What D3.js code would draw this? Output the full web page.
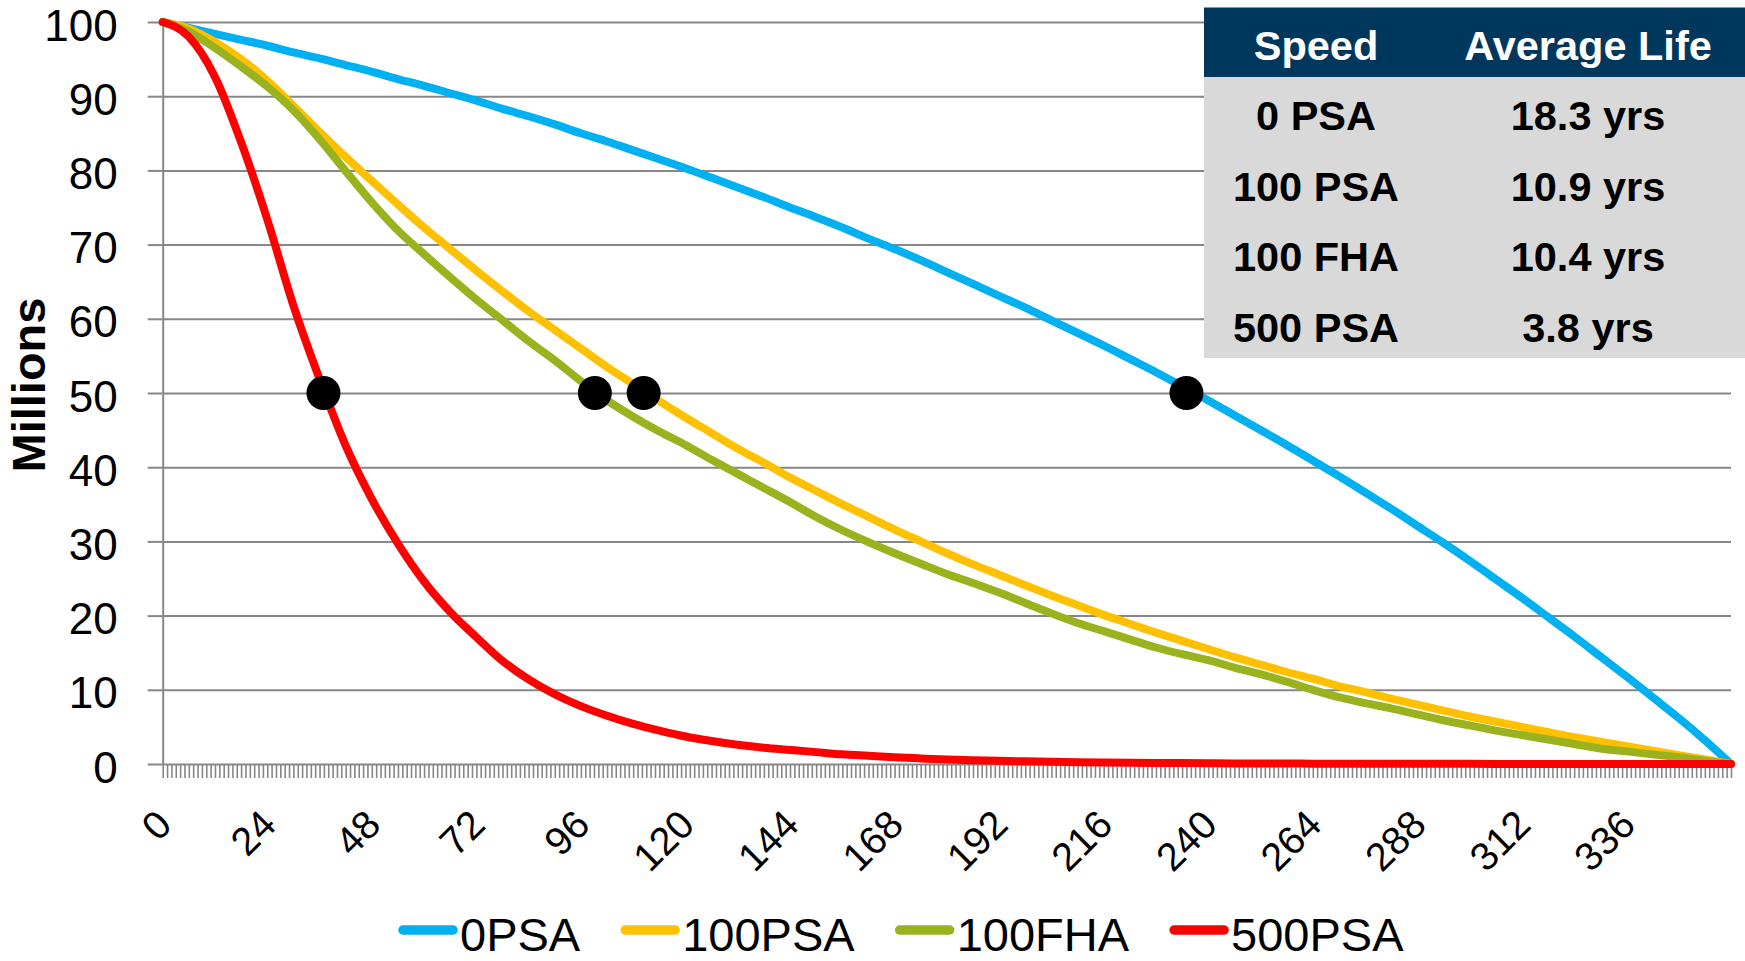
<!DOCTYPE html>
<html>
<head>
<meta charset="utf-8">
<script src="https://cdn.jsdelivr.net/npm/d3@7"></script>
<style>
  html, body { margin: 0; padding: 0; background: #ffffff; }
  svg { display: block; }
  text { font-family: "Liberation Sans", Arial, sans-serif; }
</style>
</head>
<body>
<svg id="chart" width="1745" height="961"></svg>
<script>
// ---------------- DATA ----------------
const months = [0,6,12,18,24,30,36,42,48,54,60,66,72,78,84,90,96,102,108,114,120,126,132,138,144,150,156,162,168,174,180,186,192,198,204,210,216,222,228,234,240,246,252,258,264,270,276,282,288,294,300,306,312,318,324,330,336,342,348,354,360];

const psa0 = [100,99.2,98.4,97.6,96.8,95.9,95.1,94.2,93.3,92.3,91.4,90.4,89.4,88.3,87.3,86.2,85.0,83.9,82.7,81.5,80.3,79.0,77.7,76.4,75.0,73.7,72.3,70.8,69.4,67.9,66.3,64.7,63.1,61.5,59.8,58.1,56.4,54.6,52.8,50.9,49.0,47.0,45.0,43.0,40.9,38.8,36.6,34.4,32.1,29.8,27.4,24.9,22.4,19.8,17.2,14.5,11.8,9.0,6.2,3.2,0];

const psa100 = [100,99.1,97.3,95.0,92.1,88.7,85.2,81.8,78.6,75.4,72.3,69.4,66.5,63.7,61.0,58.5,56.0,53.5,51.2,48.9,46.7,44.6,42.5,40.6,38.6,36.8,35.0,33.3,31.6,30.0,28.4,26.9,25.5,24.1,22.7,21.4,20.1,18.9,17.7,16.6,15.5,14.4,13.4,12.4,11.5,10.5,9.7,8.8,8.0,7.2,6.4,5.7,5.0,4.3,3.6,3.0,2.4,1.8,1.2,0.6,0];

const fha100 = [100,98.7,96.5,94.0,91.3,88.1,84.2,79.9,75.7,71.9,68.7,65.6,62.6,59.8,57.0,54.4,51.6,49.0,46.8,44.8,43.0,41.0,39.1,37.2,35.3,33.3,31.5,29.9,28.4,27.0,25.6,24.4,23.1,21.7,20.3,19.0,17.9,16.8,15.7,14.8,14.0,13.0,12.1,11.1,10.0,9.0,8.2,7.5,6.7,5.9,5.2,4.5,3.9,3.3,2.7,2.1,1.7,1.3,0.9,0.45,0];

const psa500 = [100,98.0,92.6,83.8,73.4,61.8,51.9,42.9,35.7,29.7,24.6,20.5,17.1,13.9,11.4,9.4,7.8,6.5,5.4,4.5,3.7,3.1,2.6,2.2,1.9,1.6,1.3,1.1,0.9,0.75,0.62,0.52,0.43,0.36,0.3,0.25,0.21,0.18,0.15,0.12,0.1,0.08,0.07,0.06,0.05,0.04,0.035,0.03,0.025,0.02,0.017,0.014,0.011,0.009,0.007,0.005,0.004,0.003,0.002,0.001,0];

const seriesNames = ["0PSA", "100PSA", "100FHA", "500PSA"];
const seriesValues = [psa0, psa100, fha100, psa500];
const seriesColors = ["#00B0F0", "#FFC000", "#9BB21F", "#FF0000"];

// half-life markers (month at which balance reaches 50)
const halfLifeMonths = [235, 110.4, 99.2, 36.9];
const halfLifeValue = 50;

const xTickLabels = [0,24,48,72,96,120,144,168,192,216,240,264,288,312,336];
const yTicks = [0,10,20,30,40,50,60,70,80,90,100];
const yTitle = "Millions";

const tableHeader = ["Speed", "Average Life"];
const tableSpeeds = ["0 PSA", "100 PSA", "100 FHA", "500 PSA"];
const tableLives = ["18.3 yrs", "10.9 yrs", "10.4 yrs", "3.8 yrs"];

// ---------------- LAYOUT ----------------
(function () {
const svg = d3.select("#chart");
const pLeft = 162.7, pRight = 1731, pTop = 22, pBottom = 764;
const gridColor = "#878787";

const x = d3.scaleLinear().domain([0, 360]).range([pLeft, pRight]);
const y = d3.scaleLinear().domain([0, 100]).range([pBottom, pTop]);

// gridlines
const grid = svg.append("g").attr("transform", `translate(${pLeft},0)`)
  .call(d3.axisLeft(y).tickValues(yTicks.filter(d => d > 0)).tickSize(-(pRight - pLeft)).tickFormat(""));
grid.select(".domain").remove();
grid.selectAll("line").attr("stroke", gridColor).attr("stroke-width", 2);

// y axis
const yAxis = svg.append("g").attr("transform", `translate(${pLeft},0)`)
  .call(d3.axisLeft(y).tickValues(yTicks).tickSize(15).tickSizeOuter(0).tickPadding(30));
yAxis.select(".domain").attr("stroke", gridColor).attr("stroke-width", 2);
yAxis.selectAll(".tick line").attr("stroke", gridColor).attr("stroke-width", 2);
yAxis.selectAll(".tick text")
  .attr("font-size", 44).attr("fill", "#000").attr("dy", "0.41em")
  .style("font-family", '"Liberation Sans", Arial, sans-serif');

// x axis ticks (every month)
const xAxis = svg.append("g").attr("transform", `translate(0,${pBottom})`)
  .call(d3.axisBottom(x).tickValues(d3.range(0, 361)).tickSize(14).tickSizeOuter(0).tickFormat(""));
xAxis.select(".domain").attr("stroke", gridColor).attr("stroke-width", 2);
xAxis.selectAll(".tick line").attr("stroke", gridColor).attr("stroke-width", 1.6);

// x tick labels, rotated
svg.append("g").selectAll("text").data(xTickLabels).join("text")
  .attr("transform", d => `translate(${x(d) + 11},827) rotate(-45)`)
  .attr("text-anchor", "end")
  .attr("font-size", 39.5)
  .attr("fill", "#000")
  .text(d => d);

// y title
svg.append("text")
  .attr("transform", `translate(45,385) rotate(-90)`)
  .attr("text-anchor", "middle")
  .attr("font-size", 47)
  .attr("font-weight", "bold")
  .attr("fill", "#000")
  .text(yTitle);

// lines
const line = d3.line()
  .x((d, i) => x(months[i]))
  .y(d => y(d))
  .curve(d3.curveMonotoneX);

svg.append("g").selectAll("path").data(seriesValues).join("path")
  .attr("d", d => line(d))
  .attr("fill", "none")
  .attr("stroke", (d, i) => seriesColors[i])
  .attr("stroke-width", 8)
  .attr("stroke-linejoin", "round")
  .attr("stroke-linecap", "round");

// half-life dots
svg.append("g").selectAll("circle").data(halfLifeMonths).join("circle")
  .attr("cx", d => x(d))
  .attr("cy", y(halfLifeValue))
  .attr("r", 17)
  .attr("fill", "#000");

// table
const tX = 1204, tTop = 7.5, tHeadBottom = 77, tBottom = 358, tRight = 1745;
const colCenters = [1316, 1588];
svg.append("rect").attr("x", tX).attr("y", tTop).attr("width", tRight - tX).attr("height", tHeadBottom - tTop).attr("fill", "#00385D");
svg.append("rect").attr("x", tX).attr("y", tHeadBottom).attr("width", tRight - tX).attr("height", tBottom - tHeadBottom).attr("fill", "#D9D9D9");
svg.append("g").selectAll("text").data(tableHeader).join("text")
  .attr("x", (d, i) => colCenters[i]).attr("y", 59.5)
  .attr("text-anchor", "middle").attr("font-size", 41.5).attr("font-weight", "bold").attr("fill", "#fff")
  .text(d => d);
const rowBase = [130, 200.5, 271, 341.5];
svg.append("g").selectAll("text").data(tableSpeeds).join("text")
  .attr("x", colCenters[0]).attr("y", (d, i) => rowBase[i])
  .attr("text-anchor", "middle").attr("font-size", 41.5).attr("font-weight", "bold").attr("fill", "#000")
  .text(d => d);
svg.append("g").selectAll("text").data(tableLives).join("text")
  .attr("x", colCenters[1]).attr("y", (d, i) => rowBase[i])
  .attr("text-anchor", "middle").attr("font-size", 41.5).attr("font-weight", "bold").attr("fill", "#000")
  .text(d => d);

// legend
const legend = svg.append("g");
let lx = 398;
const lineY = 930, textY = 950.5;
seriesNames.forEach((name, i) => {
  legend.append("line")
    .attr("x1", lx + 5).attr("x2", lx + 55).attr("y1", lineY).attr("y2", lineY)
    .attr("stroke", seriesColors[i]).attr("stroke-width", 9.5).attr("stroke-linecap", "round");
  const t = legend.append("text")
    .attr("x", lx + 62).attr("y", textY)
    .attr("font-size", 47).attr("fill", "#000")
    .text(name);
  const w = t.node().getComputedTextLength();
  lx = lx + 62 + w + 40;
});
})();
</script>
</body>
</html>
